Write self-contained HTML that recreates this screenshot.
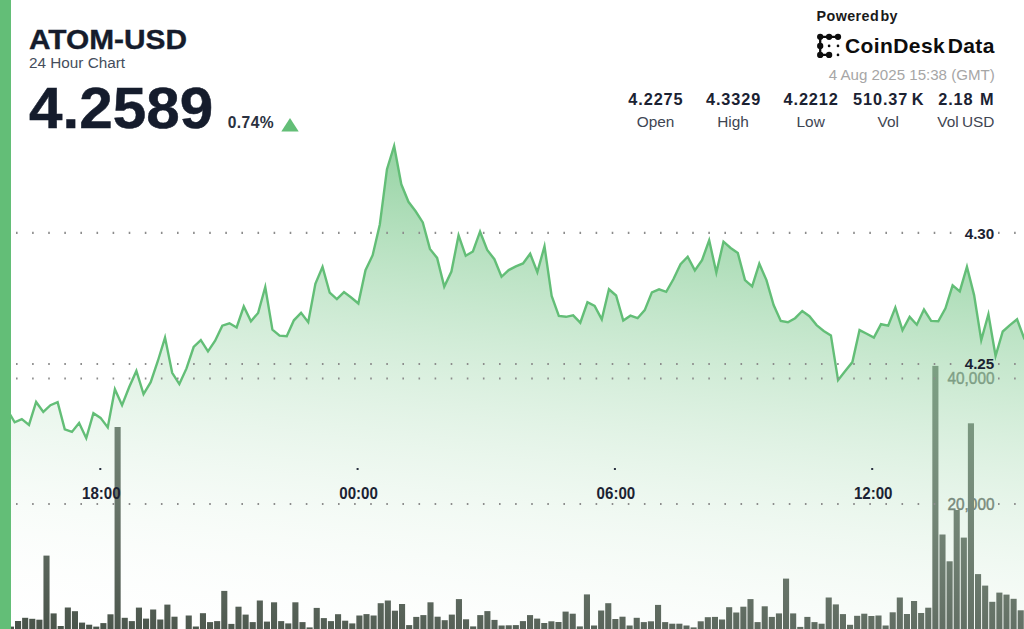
<!DOCTYPE html>
<html lang="en"><head><meta charset="utf-8"><title>ATOM-USD 24 Hour Chart</title>
<style>
html,body{margin:0;padding:0;background:#fff;}
body{width:1024px;height:629px;position:relative;overflow:hidden;font-family:"Liberation Sans",sans-serif;color:#151c2c;}
svg{position:absolute;left:0;top:0;}
.t{position:absolute;white-space:nowrap;line-height:1;}
#title{left:29.2px;top:26.7px;font-size:27px;font-weight:700;transform-origin:0 0;transform:scaleX(1.105);-webkit-text-stroke:0.35px #151c2c;}
#sub{left:29px;top:55.2px;font-size:15.3px;color:#454d5b;}
#price{left:28.6px;top:79.9px;font-size:57px;font-weight:700;transform-origin:0 0;transform:scaleX(1.056);-webkit-text-stroke:0.5px #151c2c;}
#pct{left:227.8px;top:115.3px;font-size:15.6px;font-weight:700;letter-spacing:0.4px;color:#2a3140;}
#pow{left:816.6px;top:9.3px;font-size:14.3px;font-weight:700;color:#1a1a1a;letter-spacing:0.42px;word-spacing:-3.1px;}
#cdd{left:845px;top:34.9px;font-size:21px;font-weight:700;color:#0d0d0d;letter-spacing:0.4px;word-spacing:-3.6px;}
#ts{right:29.2px;top:66.5px;font-size:15.1px;color:#a6a6a6;}
#stats{position:absolute;left:616.7px;top:90.5px;width:388px;display:flex;}
#stats div{width:77.6px;text-align:center;white-space:nowrap;}
#stats b{display:block;font-size:16.3px;line-height:16px;letter-spacing:0.9px;text-indent:0.9px;color:#1b2232;}
#stats span{display:block;font-size:15.4px;line-height:16px;margin-top:7.3px;word-spacing:-1px;color:#3e4552;}
</style></head><body>
<svg width="1024" height="629" viewBox="0 0 1024 629">
<defs>
<linearGradient id="g" gradientUnits="userSpaceOnUse" x1="542.6" y1="46.6" x2="463.5" y2="701.4">
<stop offset="0" stop-color="#63be77" stop-opacity="1"/>
<stop offset="1" stop-color="#ffffff" stop-opacity="0"/>
</linearGradient>
</defs>
<g fill="#434e44"><rect x="7.9" y="626.6" width="6.1" height="2.4"/><rect x="15.01" y="621" width="6.1" height="8"/><rect x="22.12" y="617.8" width="6.1" height="11.2"/><rect x="29.23" y="618.8" width="6.1" height="10.2"/><rect x="36.34" y="619.7" width="6.1" height="9.3"/><rect x="43.45" y="555.6" width="6.1" height="73.4"/><rect x="50.57" y="613.4" width="6.1" height="15.6"/><rect x="57.68" y="626" width="6.1" height="3"/><rect x="64.79" y="607.5" width="6.1" height="21.5"/><rect x="71.9" y="611.2" width="6.1" height="17.8"/><rect x="79.01" y="622.6" width="6.1" height="6.4"/><rect x="86.12" y="624.7" width="6.1" height="4.3"/><rect x="93.23" y="626.6" width="6.1" height="2.4"/><rect x="100.34" y="623.1" width="6.1" height="5.9"/><rect x="107.45" y="614.3" width="6.1" height="14.7"/><rect x="114.56" y="427" width="6.1" height="202"/><rect x="121.68" y="617.8" width="6.1" height="11.2"/><rect x="128.79" y="621.1" width="6.1" height="7.9"/><rect x="135.9" y="607.6" width="6.1" height="21.4"/><rect x="143.01" y="618.6" width="6.1" height="10.4"/><rect x="150.12" y="609.5" width="6.1" height="19.5"/><rect x="157.23" y="619.5" width="6.1" height="9.5"/><rect x="164.34" y="604.6" width="6.1" height="24.4"/><rect x="171.45" y="616.7" width="6.1" height="12.3"/><rect x="185.68" y="615.5" width="6.1" height="13.5"/><rect x="192.79" y="626.5" width="6.1" height="2.5"/><rect x="199.9" y="613.2" width="6.1" height="15.8"/><rect x="207.01" y="622.1" width="6.1" height="6.9"/><rect x="214.12" y="621.1" width="6.1" height="7.9"/><rect x="221.23" y="590.9" width="6.1" height="38.1"/><rect x="228.34" y="623.9" width="6.1" height="5.1"/><rect x="235.45" y="606.7" width="6.1" height="22.3"/><rect x="242.56" y="614.6" width="6.1" height="14.4"/><rect x="249.67" y="622.1" width="6.1" height="6.9"/><rect x="256.78" y="600.5" width="6.1" height="28.5"/><rect x="263.9" y="621.6" width="6.1" height="7.4"/><rect x="271.01" y="602.3" width="6.1" height="26.7"/><rect x="278.12" y="621.1" width="6.1" height="7.9"/><rect x="285.23" y="623.4" width="6.1" height="5.6"/><rect x="292.34" y="602.3" width="6.1" height="26.7"/><rect x="299.45" y="622.1" width="6.1" height="6.9"/><rect x="306.56" y="627.4" width="6.1" height="1.6"/><rect x="313.67" y="607.9" width="6.1" height="21.1"/><rect x="320.78" y="618.1" width="6.1" height="10.9"/><rect x="327.89" y="621.1" width="6.1" height="7.9"/><rect x="335.01" y="614.2" width="6.1" height="14.8"/><rect x="342.12" y="620.7" width="6.1" height="8.3"/><rect x="349.23" y="623.4" width="6.1" height="5.6"/><rect x="356.34" y="615.5" width="6.1" height="13.5"/><rect x="363.45" y="614.1" width="6.1" height="14.9"/><rect x="370.56" y="615.5" width="6.1" height="13.5"/><rect x="377.67" y="603.2" width="6.1" height="25.8"/><rect x="384.78" y="600.5" width="6.1" height="28.5"/><rect x="391.89" y="610.7" width="6.1" height="18.3"/><rect x="399" y="604" width="6.1" height="25"/><rect x="406.12" y="625.1" width="6.1" height="3.9"/><rect x="413.23" y="616.9" width="6.1" height="12.1"/><rect x="420.34" y="615.1" width="6.1" height="13.9"/><rect x="427.45" y="602.3" width="6.1" height="26.7"/><rect x="434.56" y="616.7" width="6.1" height="12.3"/><rect x="441.67" y="620.2" width="6.1" height="8.8"/><rect x="448.78" y="614.6" width="6.1" height="14.4"/><rect x="455.89" y="599.1" width="6.1" height="29.9"/><rect x="463" y="619.3" width="6.1" height="9.7"/><rect x="470.11" y="626.4" width="6.1" height="2.6"/><rect x="477.23" y="615.1" width="6.1" height="13.9"/><rect x="484.34" y="611.1" width="6.1" height="17.9"/><rect x="491.45" y="619.9" width="6.1" height="9.1"/><rect x="498.56" y="625.5" width="6.1" height="3.5"/><rect x="505.67" y="625.3" width="6.1" height="3.7"/><rect x="512.78" y="625.1" width="6.1" height="3.9"/><rect x="519.89" y="621.1" width="6.1" height="7.9"/><rect x="527" y="615.1" width="6.1" height="13.9"/><rect x="534.11" y="618.6" width="6.1" height="10.4"/><rect x="541.22" y="623" width="6.1" height="6"/><rect x="548.34" y="621.3" width="6.1" height="7.7"/><rect x="555.45" y="622" width="6.1" height="7"/><rect x="562.56" y="611.6" width="6.1" height="17.4"/><rect x="569.67" y="613.7" width="6.1" height="15.3"/><rect x="576.78" y="626.4" width="6.1" height="2.6"/><rect x="583.89" y="594.4" width="6.1" height="34.6"/><rect x="591" y="625.5" width="6.1" height="3.5"/><rect x="598.11" y="610.5" width="6.1" height="18.5"/><rect x="605.22" y="603.2" width="6.1" height="25.8"/><rect x="612.33" y="619" width="6.1" height="10"/><rect x="619.45" y="616.7" width="6.1" height="12.3"/><rect x="626.56" y="625.5" width="6.1" height="3.5"/><rect x="633.67" y="617.8" width="6.1" height="11.2"/><rect x="640.78" y="622.1" width="6.1" height="6.9"/><rect x="647.89" y="621.3" width="6.1" height="7.7"/><rect x="655" y="604.9" width="6.1" height="24.1"/><rect x="662.11" y="622.1" width="6.1" height="6.9"/><rect x="669.22" y="623.7" width="6.1" height="5.3"/><rect x="676.33" y="623.7" width="6.1" height="5.3"/><rect x="683.44" y="625.5" width="6.1" height="3.5"/><rect x="690.56" y="627.4" width="6.1" height="1.6"/><rect x="697.67" y="621.3" width="6.1" height="7.7"/><rect x="704.78" y="617.2" width="6.1" height="11.8"/><rect x="711.89" y="616.9" width="6.1" height="12.1"/><rect x="719" y="619.5" width="6.1" height="9.5"/><rect x="726.11" y="607.2" width="6.1" height="21.8"/><rect x="733.22" y="612.5" width="6.1" height="16.5"/><rect x="740.33" y="606.7" width="6.1" height="22.3"/><rect x="747.44" y="599.1" width="6.1" height="29.9"/><rect x="754.55" y="622.1" width="6.1" height="6.9"/><rect x="761.67" y="606.3" width="6.1" height="22.7"/><rect x="768.78" y="616.9" width="6.1" height="12.1"/><rect x="775.89" y="613.4" width="6.1" height="15.6"/><rect x="783" y="578.6" width="6.1" height="50.4"/><rect x="790.11" y="613.4" width="6.1" height="15.6"/><rect x="797.22" y="626.9" width="6.1" height="2.1"/><rect x="804.33" y="616.9" width="6.1" height="12.1"/><rect x="811.44" y="622.1" width="6.1" height="6.9"/><rect x="818.55" y="623.7" width="6.1" height="5.3"/><rect x="825.66" y="597.5" width="6.1" height="31.5"/><rect x="832.78" y="604.4" width="6.1" height="24.6"/><rect x="839.89" y="614.1" width="6.1" height="14.9"/><rect x="847" y="624.8" width="6.1" height="4.2"/><rect x="854.11" y="615.8" width="6.1" height="13.2"/><rect x="861.22" y="613.7" width="6.1" height="15.3"/><rect x="868.33" y="616" width="6.1" height="13"/><rect x="875.44" y="615.5" width="6.1" height="13.5"/><rect x="882.55" y="625.5" width="6.1" height="3.5"/><rect x="889.66" y="612.3" width="6.1" height="16.7"/><rect x="896.77" y="597.5" width="6.1" height="31.5"/><rect x="903.89" y="614" width="6.1" height="15"/><rect x="911" y="601" width="6.1" height="28"/><rect x="918.11" y="613" width="6.1" height="16"/><rect x="925.22" y="607.7" width="6.1" height="21.3"/><rect x="932.33" y="365.9" width="6.1" height="263.1"/><rect x="939.44" y="534.5" width="6.1" height="94.5"/><rect x="946.55" y="561.3" width="6.1" height="67.7"/><rect x="953.66" y="510" width="6.1" height="119"/><rect x="960.77" y="537.6" width="6.1" height="91.4"/><rect x="967.88" y="423.3" width="6.1" height="205.7"/><rect x="975" y="574.1" width="6.1" height="54.9"/><rect x="982.11" y="585.6" width="6.1" height="43.4"/><rect x="989.22" y="601.8" width="6.1" height="27.2"/><rect x="996.33" y="592.6" width="6.1" height="36.4"/><rect x="1003.44" y="594.6" width="6.1" height="34.4"/><rect x="1010.55" y="598.8" width="6.1" height="30.2"/><rect x="1017.66" y="610.3" width="6.1" height="18.7"/></g>
<g font-family="'Liberation Sans',sans-serif" font-size="16.3" fill="#484d49" stroke="#484d49" stroke-width="0.45" text-anchor="end">
<text x="994.5" y="384.3" textLength="47" lengthAdjust="spacingAndGlyphs">40,000</text>
<text x="994.5" y="509.8" textLength="47" lengthAdjust="spacingAndGlyphs">20,000</text>
</g>
<path d="M7.5 410 L14.66 422.3 L21.82 419.1 L28.98 424.9 L36.14 402 L43.3 411.9 L50.46 405.2 L57.62 402.2 L64.78 429.3 L71.94 431.9 L79.1 423 L86.26 438.2 L93.42 413.2 L100.58 417.9 L107.74 427.4 L114.9 389.2 L122.06 405.2 L129.22 387 L136.38 370.9 L143.54 394.1 L150.7 382.2 L157.86 361 L165.02 337.6 L172.18 372.8 L179.34 384.1 L186.5 368.4 L193.66 347 L200.82 340.1 L207.98 351.4 L215.14 340.7 L222.3 325.7 L229.46 323.3 L236.62 327.5 L243.78 306.5 L250.94 321.3 L258.1 313 L265.26 287 L272.42 329.7 L279.58 335.7 L286.74 336.3 L293.9 320.3 L301.06 312.8 L308.22 322.2 L315.38 283.9 L322.54 266.9 L329.7 292.7 L336.86 299.2 L344.02 292.1 L351.18 297.5 L358.34 303.5 L365.5 270.2 L372.66 255.2 L379.82 224.5 L386.98 169.2 L394.14 146 L401.3 184.3 L408.46 201.8 L415.62 211.3 L422.78 222.4 L429.94 248.9 L437.1 257.9 L444.26 286.6 L451.42 271.5 L458.58 235.3 L465.74 255.8 L472.9 251.4 L480.06 231.7 L487.22 250 L494.38 259.2 L501.54 276.8 L508.7 270.1 L515.86 266.4 L523.02 263.4 L530.18 253.7 L537.34 272.1 L544.5 246.3 L551.66 296 L558.82 316 L565.98 316.8 L573.14 315.3 L580.3 322.7 L587.46 302.3 L594.62 306 L601.78 319.3 L608.94 289.3 L616.1 295.5 L623.26 320.5 L630.42 315.7 L637.58 318.2 L644.74 310.1 L651.9 292.3 L659.06 289.3 L666.22 291.8 L673.38 279.3 L680.54 264.2 L687.7 256.7 L694.86 270.4 L702.02 260.1 L709.18 240.3 L716.34 272.6 L723.5 241.7 L730.66 248 L737.82 253 L744.98 280.1 L752.14 286.4 L759.3 263.7 L766.46 280.1 L773.62 305.1 L780.78 321 L787.94 322.3 L795.1 318.2 L802.26 311 L809.42 316.2 L816.58 325.1 L823.74 330.9 L830.9 335.4 L838.06 380.2 L845.22 371 L852.38 362.1 L859.54 330.1 L866.7 333.7 L873.86 337.6 L881.02 324.2 L888.18 325.6 L895.34 307.5 L902.5 330.2 L909.66 316.9 L916.82 324.7 L923.98 309.5 L931.14 320.9 L938.3 321.3 L945.46 308.4 L952.62 285.4 L959.78 291.4 L966.94 266.8 L974.1 295.1 L981.26 340.1 L988.42 314.3 L995.58 356 L1002.74 331.5 L1009.9 325.1 L1017.06 319.3 L1024.22 338.5 L1031.38 345 L1031.38 629 L7.5 629 Z" fill="url(#g)"/>
<path d="M7.5 410 L14.66 422.3 L21.82 419.1 L28.98 424.9 L36.14 402 L43.3 411.9 L50.46 405.2 L57.62 402.2 L64.78 429.3 L71.94 431.9 L79.1 423 L86.26 438.2 L93.42 413.2 L100.58 417.9 L107.74 427.4 L114.9 389.2 L122.06 405.2 L129.22 387 L136.38 370.9 L143.54 394.1 L150.7 382.2 L157.86 361 L165.02 337.6 L172.18 372.8 L179.34 384.1 L186.5 368.4 L193.66 347 L200.82 340.1 L207.98 351.4 L215.14 340.7 L222.3 325.7 L229.46 323.3 L236.62 327.5 L243.78 306.5 L250.94 321.3 L258.1 313 L265.26 287 L272.42 329.7 L279.58 335.7 L286.74 336.3 L293.9 320.3 L301.06 312.8 L308.22 322.2 L315.38 283.9 L322.54 266.9 L329.7 292.7 L336.86 299.2 L344.02 292.1 L351.18 297.5 L358.34 303.5 L365.5 270.2 L372.66 255.2 L379.82 224.5 L386.98 169.2 L394.14 146 L401.3 184.3 L408.46 201.8 L415.62 211.3 L422.78 222.4 L429.94 248.9 L437.1 257.9 L444.26 286.6 L451.42 271.5 L458.58 235.3 L465.74 255.8 L472.9 251.4 L480.06 231.7 L487.22 250 L494.38 259.2 L501.54 276.8 L508.7 270.1 L515.86 266.4 L523.02 263.4 L530.18 253.7 L537.34 272.1 L544.5 246.3 L551.66 296 L558.82 316 L565.98 316.8 L573.14 315.3 L580.3 322.7 L587.46 302.3 L594.62 306 L601.78 319.3 L608.94 289.3 L616.1 295.5 L623.26 320.5 L630.42 315.7 L637.58 318.2 L644.74 310.1 L651.9 292.3 L659.06 289.3 L666.22 291.8 L673.38 279.3 L680.54 264.2 L687.7 256.7 L694.86 270.4 L702.02 260.1 L709.18 240.3 L716.34 272.6 L723.5 241.7 L730.66 248 L737.82 253 L744.98 280.1 L752.14 286.4 L759.3 263.7 L766.46 280.1 L773.62 305.1 L780.78 321 L787.94 322.3 L795.1 318.2 L802.26 311 L809.42 316.2 L816.58 325.1 L823.74 330.9 L830.9 335.4 L838.06 380.2 L845.22 371 L852.38 362.1 L859.54 330.1 L866.7 333.7 L873.86 337.6 L881.02 324.2 L888.18 325.6 L895.34 307.5 L902.5 330.2 L909.66 316.9 L916.82 324.7 L923.98 309.5 L931.14 320.9 L938.3 321.3 L945.46 308.4 L952.62 285.4 L959.78 291.4 L966.94 266.8 L974.1 295.1 L981.26 340.1 L988.42 314.3 L995.58 356 L1002.74 331.5 L1009.9 325.1 L1017.06 319.3 L1024.22 338.5 L1031.38 345" fill="none" stroke="#63be77" stroke-width="2.4" stroke-linejoin="miter" stroke-miterlimit="10"/>
<g stroke="#8c8c8c" stroke-width="2.2" stroke-dasharray="1.6 14.5" fill="none">
<path d="M16 232.8H952M998 232.8H1024"/>
<path d="M16 364H952M998 364H1024"/>
<path d="M16 378.5H936M998 378.5H1024"/>
<path d="M16 504H936M998 504H1024"/>
</g>
<g font-family="'Liberation Sans',sans-serif" font-size="15.5" font-weight="700" fill="#1b2232" text-anchor="end">
<text x="994.3" y="238.5" textLength="29.6" lengthAdjust="spacingAndGlyphs">4.30</text>
<text x="994.3" y="369.3" textLength="29.6" lengthAdjust="spacingAndGlyphs">4.25</text>
</g>
<g font-family="'Liberation Sans',sans-serif" font-size="16" font-weight="700" fill="#1b2232" text-anchor="middle">
<text x="101.3" y="499.2" textLength="38.6" lengthAdjust="spacingAndGlyphs">18:00</text>
<text x="358.6" y="499.2" textLength="38.6" lengthAdjust="spacingAndGlyphs">00:00</text>
<text x="615.9" y="499.2" textLength="38.6" lengthAdjust="spacingAndGlyphs">06:00</text>
<text x="873.2" y="499.2" textLength="38.6" lengthAdjust="spacingAndGlyphs">12:00</text>
</g>
<g fill="#2a3040"><rect x="99.3" y="468" width="2" height="2"/><rect x="356.6" y="468" width="2" height="2"/><rect x="613.9" y="468" width="2" height="2"/><rect x="871.2" y="468" width="2" height="2"/></g>
<rect x="0" y="0" width="11" height="629" fill="#63be77"/>
<path d="M281.3 131.5L298.7 131.5L290 118Z" fill="#63be77"/>
<g fill="#0d0d0d" stroke="#0d0d0d">
<path d="M838 36.8H820.2V54.9H829.1" fill="none" stroke-width="2.3" stroke-linecap="round" stroke-linejoin="round"/>
<g stroke="none">
<circle cx="820.2" cy="36.8" r="3.15"/><circle cx="829.1" cy="36.8" r="3.15"/><circle cx="838" cy="36.8" r="3.15"/>
<circle cx="820.2" cy="45.9" r="3.15"/><circle cx="820.2" cy="54.9" r="3.15"/><circle cx="829.1" cy="54.9" r="3.15"/>
<circle cx="829.1" cy="45.9" r="1.35"/><circle cx="838" cy="45.9" r="1.35"/><circle cx="838" cy="54.9" r="1.35"/>
</g></g>
</svg>
<div class="t" id="title">ATOM-USD</div>
<div class="t" id="sub">24 Hour Chart</div>
<div class="t" id="price">4.2589</div>
<div class="t" id="pct">0.74%</div>
<div class="t" id="pow">Powered by</div>
<div class="t" id="cdd">CoinDesk Data</div>
<div class="t" id="ts">4 Aug 2025 15:38 (GMT)</div>
<div id="stats">
<div><b>4.2275</b><span>Open</span></div>
<div><b>4.3329</b><span>High</span></div>
<div><b>4.2212</b><span>Low</span></div>
<div><b style="word-spacing:-2px">510.37 K</b><span>Vol</span></div>
<div><b style="word-spacing:1px">2.18 M</b><span>Vol USD</span></div>
</div>
</body></html>
